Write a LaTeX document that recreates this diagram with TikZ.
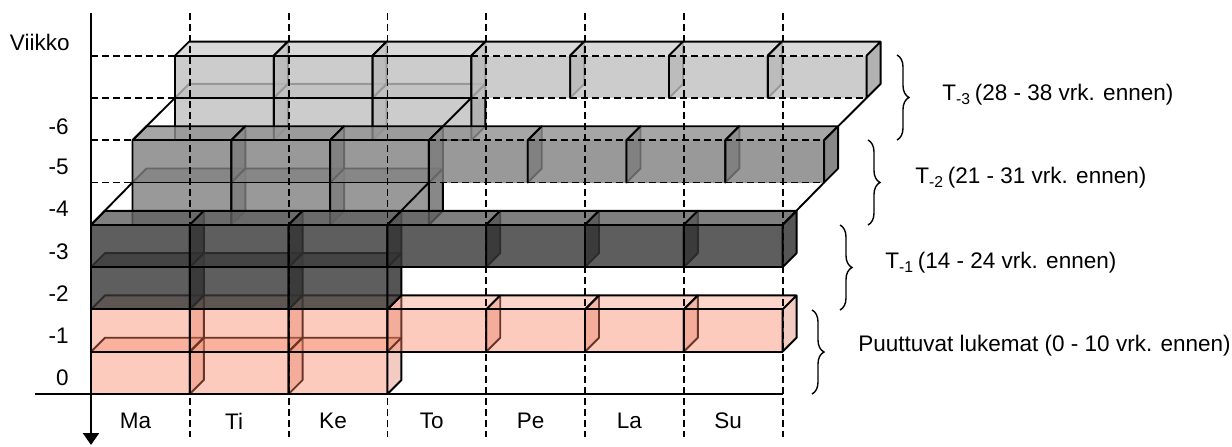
\documentclass[tikz,border=0pt]{standalone}
\usepackage{fontspec}
\setmainfont{Liberation Sans}
\usetikzlibrary{arrows.meta}
\usetikzlibrary{decorations.pathreplacing}

\definecolor{puuF}{HTML}{F88362}
\definecolor{puuT}{HTML}{F99A80}
\definecolor{puuS}{HTML}{E0836E}
\definecolor{tAF}{HTML}{363636}
\definecolor{tAT}{HTML}{5F5F5F}
\definecolor{tAS}{HTML}{2A2A2A}
\definecolor{tBF}{HTML}{808080}
\definecolor{tBT}{HTML}{909090}
\definecolor{tBS}{HTML}{6A6A6A}
\definecolor{tCF}{HTML}{BFBFBF}
\definecolor{tCT}{HTML}{CFCFCF}
\definecolor{tCS}{HTML}{9F9F9F}

\newcommand{\colw}{98.8}
\newcommand{\rowh}{42.3}
\newcommand{\dep}{14}

% one day: top, side and front face
\newcommand{\dayBox}[5]{%
  \fill[#3T, fill opacity=#4] (#1,#2-\rowh) -- ++(\dep,-\dep) -- ++(\colw,0) -- ++(-\dep,\dep) -- cycle;
  \fill[#3S, fill opacity=#4] (#1+\colw,#2) -- ++(\dep,-\dep) -- ++(0,-\rowh) -- ++(-\dep,\dep) -- cycle;
  \fill[#3F, fill opacity=#4] (#1,#2) rectangle ++(\colw,-\rowh);
  \draw[boxline] (#1,#2) -- ++(0,-\rowh) -- ++(\dep,-\dep) -- ++(\colw,0) -- ++(0,\rowh) -- ++(-\dep,\dep) -- ++(0,-\rowh) -- ++(\dep,-\dep);
  \draw[boxline,#5] (#1,#2) -- ++(\colw,0) (#1,#2-\rowh) -- ++(\colw,0);
}

\begin{document}
\begin{tikzpicture}[x=0.5pt, y=-0.5pt, font=\fontsize{11.25}{13.5}\selectfont,
    boxline/.style={line width=0.95pt, line join=round},
    gridline/.style={line width=0.9pt, dash pattern=on 3.5pt off 2pt},
    axisline/.style={line width=1.1pt},
    curly/.style={decorate, decoration={brace, amplitude=6pt}, line width=0.7pt}]
    \useasboundingbox (0,0) rectangle (1232,446);

    % puuttuvat lukemat
    \foreach \i in {0,1,2} {\dayBox{91+\i*\colw}{394}{puu}{0.42}{solid}}
    \foreach \i in {0,...,6} {\dayBox{91+\i*\colw}{394-\rowh}{puu}{0.42}{solid}}

    % T-3
    \foreach \i in {0,1,2} {\dayBox{175+\i*\colw}{140.2}{tC}{0.8}{solid}}
    \foreach \i in {0,1,2} {\dayBox{175+\i*\colw}{140.2-\rowh}{tC}{0.8}{solid}}
    \foreach \i in {3,...,6} {\dayBox{175+\i*\colw}{140.2-\rowh}{tC}{0.8}{gridline}}

    % T-2
    \foreach \i in {0,1,2} {\dayBox{132.5+\i*\colw}{224.8}{tB}{0.8}{solid}}
    \foreach \i in {0,1,2} {\dayBox{132.5+\i*\colw}{224.8-\rowh}{tB}{0.8}{solid}}
    \foreach \i in {3,...,6} {\dayBox{132.5+\i*\colw}{224.8-\rowh}{tB}{0.8}{gridline}}

    % T-1
    \foreach \i in {0,1,2} {\dayBox{91+\i*\colw}{309.4}{tA}{0.8}{solid}}
    \foreach \i in {0,...,6} {\dayBox{91+\i*\colw}{309.4-\rowh}{tA}{0.8}{solid}}

    \foreach \c in {0,3,7} {
      \draw[boxline] (91+\c*\colw,224.8) -- (132.5+\c*\colw,182.5);
      \draw[boxline] (132.5+\c*\colw,140.2) -- (175+\c*\colw,97.9);
    }

    \draw[gridline] (91,55.6) -- (175,55.6);
    \draw[gridline] (91,97.9) -- (175,97.9);
    \draw[gridline] (91,140.2) -- (132.5,140.2);
    \draw[gridline] (91,182.5) -- (132.5,182.5);
    \foreach \i in {1,...,7}
      \draw[gridline] (91+\i*\colw,13) -- (91+\i*\colw,437);

    \coordinate (yTop) at (91,13);
    \coordinate (yEnd) at (91,445);
    \coordinate (xStart) at (35,394);
    \coordinate (xEnd) at (91+7*\colw,394);
    \draw[axisline] (xStart) -- (xEnd);
    \draw[axisline,-{Triangle[width=8pt,length=6pt]}] (yTop) -- (yEnd);

    \node[anchor=east, inner sep=0pt] (viikko) at (70,42) {Viikko};
    \foreach \w/\y [count=\n] in {-6/127,-5/167,-4/209,-3/252,-2/294,-1/336,0/378}
      \node[anchor=east, inner sep=0pt] (week\n) at (69,\y) {\w};
    \foreach \d [count=\n] in {Ma,Ti,Ke,To,Pe,La,Su}
      \node (day\d) at (91+\n*\colw-\colw/2-5,421) {\d};

    \draw[curly] (812,310) -- (812,394);
    \draw[curly] (840,225) -- (840,310);
    \draw[curly] (868,140) -- (868,225);
    \draw[curly] (897,55) -- (897,140);

    \node[anchor=west, inner sep=0pt] (missLabel) at (858,346) {Puuttuvat lukemat (0 - 10 vrk. ennen)};
    \node[anchor=west, inner sep=0pt] (tOneLabel) at (885,263) {T\textsubscript{-1}\,(14 - 24 vrk. ennen)};
    \node[anchor=west, inner sep=0pt] (tTwoLabel) at (915,178) {T\textsubscript{-2}\,(21 - 31 vrk. ennen)};
    \node[anchor=west, inner sep=0pt] (tThreeLabel) at (942,95) {T\textsubscript{-3}\,(28 - 38 vrk. ennen)};
\end{tikzpicture}
\end{document}
